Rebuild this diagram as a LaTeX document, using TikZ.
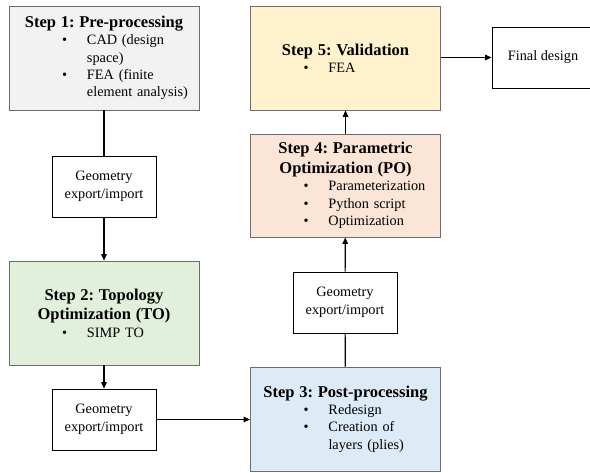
\documentclass[tikz,border=0pt]{standalone}
\usepackage{fontspec}
\setmainfont{Liberation Serif}
\usetikzlibrary{arrows.meta,positioning}
\frenchspacing
\definecolor{prefill}{HTML}{F2F2F2}
\definecolor{tofill}{HTML}{E2EFDA}
\definecolor{postfill}{HTML}{DDEBF7}
\definecolor{pofill}{HTML}{FBE5D6}
\definecolor{valfill}{HTML}{FFF2CC}
\newcommand{\steptitle}[1]{\textbf{\fontsize{16.5}{20}\selectfont #1}}
\newcommand{\bitem}[1]{\makebox[\linewidth][l]{\hspace*{48pt}\makebox[25pt][l]{\textbullet}#1}}
\newcommand{\bmore}[1]{\makebox[\linewidth][l]{\hspace*{73pt}#1}}

\begin{document}
\begin{tikzpicture}[x=1pt, y=-1pt, stepbox/.style={draw=gray!85!black, line width=0.8pt, minimum width=190pt, minimum height=104pt, text width=180pt, inner sep=5pt, align=center, font=\fontsize{14.3}{17.3}\selectfont}, geobox/.style={draw, line width=0.9pt, minimum width=104pt, minimum height=61pt, align=center, font=\fontsize{14.3}{18}\selectfont}, flow/.style={-{Triangle[length=6.5pt,width=5.5pt]}, line width=1.2pt}, link/.style={line width=1.2pt}]
\clip (0,0) rectangle (590,473);
\fill[white] (0,0) rectangle (590,473);
\node[stepbox, fill=prefill] (s1) at (104,58) {\steptitle{Step 1: Pre-processing}\\ \bitem{CAD (design}\\ \bmore{space)}\\ \bitem{FEA (finite}\\ \bmore{element analysis)}};
\node[geobox] (g1) at (104,186.5) {Geometry\\ export/import};
\node[stepbox, fill=tofill] (s2) at (104,313) {\steptitle{Step 2: Topology}\\[2.5pt] \steptitle{Optimization (TO)}\\ \bitem{SIMP TO}};
\node[geobox] (g3) at (104,419.5) {Geometry\\ export/import};
\node[stepbox, fill=postfill] (s3) at (345.5,419) {\steptitle{Step 3: Post-processing}\\ \bitem{Redesign}\\ \bitem{Creation of}\\ \bmore{layers (plies)}};
\node[geobox] (g2) at (345,302.5) {Geometry\\ export/import};
\node[stepbox, fill=pofill, minimum height=103pt] (s4) at (345.5,185.5) {\steptitle{Step 4: Parametric}\\[2.5pt] \steptitle{Optimization (PO)}\\ \bitem{Parameterization}\\ \bitem{Python script}\\ \bitem{Optimization}};
\node[stepbox, fill=valfill] (s5) at (345.5,58) {\steptitle{Step 5: Validation}\\ \bitem{FEA}};
\node[geobox, minimum width=102pt] (fin) at (543,57.5) {Final design};
\draw[link] (s1) -- (g1); \draw[flow] (g1) -- (s2);
\draw[flow] (s2) -- (g3); \draw[flow] (g3.east) -- (g3.east -| s3.west);
\draw[link] (s3) -- (g2); \draw[flow] (g2) -- (s4);
\draw[flow] (s4) -- (s5); \draw[flow] (s5.east |- fin.west) -- (fin.west);
\end{tikzpicture}
\end{document}
